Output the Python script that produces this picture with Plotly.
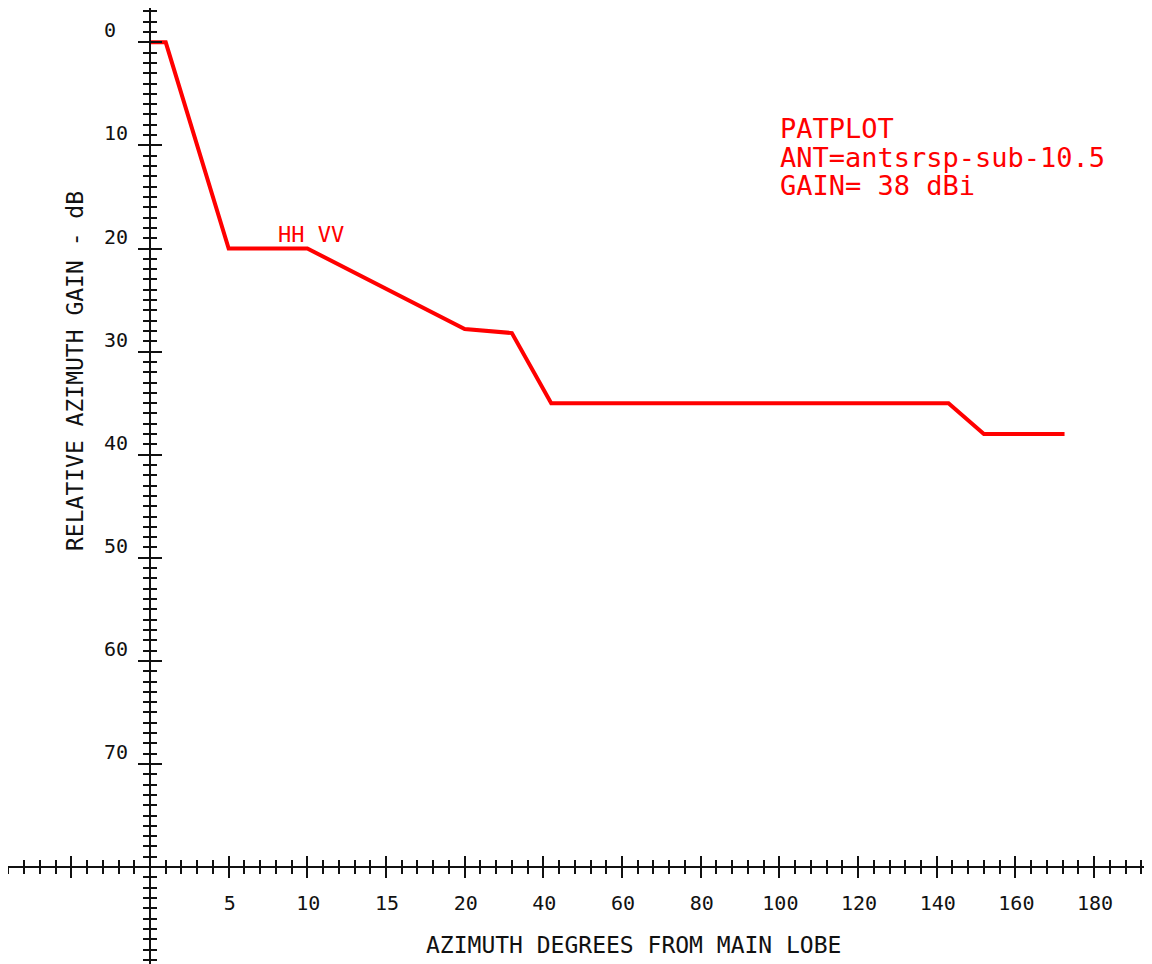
import plotly.graph_objects as go

# ---------------- data ----------------
azimuth_deg = [0, 1, 5, 10, 20, 32, 42, 143, 152, 172.5]
rel_gain_db = [0, 0, 20, 20, 27.8, 28.2, 35, 35, 38, 38]

x_tick_deg = [5, 10, 15, 20, 40, 60, 80, 100, 120, 140, 160, 180]
x_tick_labels = ["5", "10", "15", "20", "40", "60", "80", "100", "120", "140", "160", "180"]
y_tick_db = [0, 10, 20, 30, 40, 50, 60, 70]
y_tick_labels = ["0\u2007", "10", "20", "30", "40", "50", "60", "70"]

info_lines = ["PATPLOT", "ANT=antsrsp-sub-10.5", "GAIN= 38 dBi"]
curve_label = "HH VV"
x_title = "AZIMUTH DEGREES FROM MAIN LOBE"
y_title = "RELATIVE AZIMUTH GAIN - dB"


def az_scale(d):
    """Piecewise azimuth scale: 5 deg per division up to 20 deg, 20 deg per division beyond."""
    return d / 5.0 if d <= 20 else 4 + (d - 20) / 20.0


# ---------------- layout geometry (window pixels) ----------------
OFF = 8                # page body margin
WIN_W, WIN_H = 1152, 964
W, H = WIN_W - OFF, WIN_H - OFF
X0_PX = 150.0          # window pixel of azimuth 0
DIV_PX = 78.67         # pixels per major division
Y0_PX = 42.3           # window pixel of 0 dB
DB_PX = 10.31          # pixels per dB


def px(xw):
    return (xw - OFF) / W


def py(yw):
    return 1 - (yw - OFF) / H


x_range = [(OFF - X0_PX) / DIV_PX, (WIN_W - X0_PX) / DIV_PX]
y_range = [(WIN_H - Y0_PX) / DB_PX, (OFF - Y0_PX) / DB_PX]
x_axis_db = 80
x_axis_pos = py(Y0_PX + x_axis_db * DB_PX)
y_axis_pos = px(X0_PX)

FONT = "DejaVu Sans Mono"
INK = "#111111"
RED = "#ff0000"

fig = go.Figure()
fig.add_trace(go.Scatter(
    x=[az_scale(d) for d in azimuth_deg], y=rel_gain_db,
    mode="lines", line=dict(color=RED, width=4), showlegend=False,
    hoverinfo="skip", xaxis="x", yaxis="y",
))
# dummy trace so the overlay axes (inner half of crossing ticks) are drawn
fig.add_trace(go.Scatter(x=[None], y=[None], xaxis="x2", yaxis="y2",
                         showlegend=False, hoverinfo="skip"))

x_tickvals = [az_scale(v) for v in [-5] + x_tick_deg]
x_ticktext = [""] + x_tick_labels

common_x = dict(range=x_range, domain=[0, 1], anchor="free", position=x_axis_pos,
                showline=True, linecolor=INK, linewidth=2, showgrid=False, zeroline=False,
                tickmode="array", tickvals=x_tickvals, ticklen=10, tickwidth=2, tickcolor=INK)
common_y = dict(range=y_range, domain=[0, 1], anchor="free", position=y_axis_pos,
                showline=True, linecolor=INK, linewidth=2, showgrid=False, zeroline=False,
                tickmode="array", tickvals=y_tick_db, ticklen=11, tickwidth=2, tickcolor=INK)

fig.update_layout(
    width=W, height=H, margin=dict(l=0, r=0, t=0, b=0, autoexpand=False),
    paper_bgcolor="white", plot_bgcolor="white", showlegend=False,
    xaxis=dict(**common_x, ticks="outside", ticktext=x_ticktext,
               tickfont=dict(family=FONT, size=20, color=INK),
               ticklabelstandoff=8, ticklabelshift=1,
               minor=dict(ticks="outside", dtick=0.2, tick0=0, ticklen=6, tickwidth=2, tickcolor=INK)),
    xaxis2=dict(**common_x, overlaying="x", ticks="inside", showticklabels=False,
                minor=dict(ticks="inside", dtick=0.2, tick0=0, ticklen=6, tickwidth=2, tickcolor=INK)),
    yaxis=dict(**common_y, ticks="outside", ticktext=y_tick_labels,
               tickfont=dict(family=FONT, size=20, color=INK),
               ticklabelstandoff=6, ticklabelshift=12,
               minor=dict(ticks="outside", dtick=1, tick0=0, ticklen=6, tickwidth=2, tickcolor=INK)),
    yaxis2=dict(**common_y, overlaying="y", ticks="inside", showticklabels=False,
                minor=dict(ticks="inside", dtick=1, tick0=0, ticklen=6, tickwidth=2, tickcolor=INK)),
)

# axis titles
fig.add_annotation(text=x_title, xref="paper", yref="paper", x=px(633), y=py(945),
                   xanchor="center", yanchor="middle", showarrow=False,
                   font=dict(family=FONT, size=23, color=INK))
fig.add_annotation(text=y_title, xref="paper", yref="paper", x=px(75), y=py(371),
                   xanchor="center", yanchor="middle", textangle=-90, showarrow=False,
                   font=dict(family=FONT, size=23, color=INK))

# info block (top right)
for i, line in enumerate(info_lines):
    fig.add_annotation(text=line, xref="paper", yref="paper", x=px(778), y=py(129 + 28 * i),
                       xanchor="left", yanchor="middle", showarrow=False,
                       font=dict(family=FONT, size=27, color=RED))

# curve label
fig.add_annotation(text=curve_label, xref="x", yref="y", x=az_scale(8), y=18.6,
                   xanchor="left", yanchor="middle", showarrow=False,
                   font=dict(family=FONT, size=22, color=RED))

fig.write_html("out.html")
